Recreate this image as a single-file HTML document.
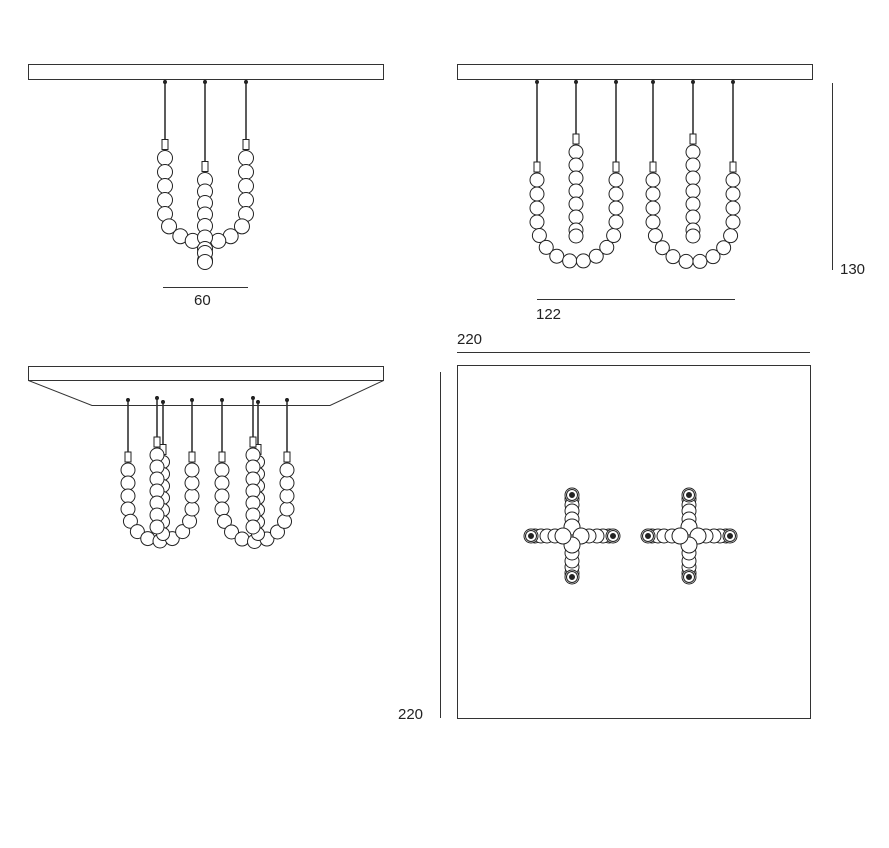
<!DOCTYPE html>
<html><head><meta charset="utf-8"><style>
html,body{margin:0;padding:0;background:#fff;width:889px;height:848px;overflow:hidden}
text{font-family:"Liberation Sans",sans-serif;font-size:15px;fill:#222}
</style></head><body>
<svg id="s" width="889" height="848" xmlns="http://www.w3.org/2000/svg">
<g fill="none" stroke="#333" stroke-width="1">
<rect x="28.5" y="64.5" width="355" height="15"/>
<rect x="457.5" y="64.5" width="355" height="15"/>
<rect x="28.5" y="366.5" width="355" height="14"/>
<path d="M28.5 380.5 L92 405.5 L330 405.5 L383.5 380.5"/>
<rect x="457.5" y="365.5" width="353" height="353"/>
<line x1="163" y1="287.5" x2="248" y2="287.5"/>
<line x1="537" y1="299.5" x2="735" y2="299.5"/>
<line x1="832.5" y1="83" x2="832.5" y2="270"/>
<line x1="457" y1="352.5" x2="810" y2="352.5"/>
<line x1="440.5" y1="372" x2="440.5" y2="718"/>
</g>
<text x="194" y="305">60</text>
<text x="536" y="319">122</text>
<text x="840" y="274">130</text>
<text x="457" y="344">220</text>
<text x="398" y="719">220</text>
<g id="g" fill="#fff" stroke="#222" stroke-width="1"></g>
</svg>
<script>
var g=document.getElementById('g'),NS='http://www.w3.org/2000/svg';
function el(t,a){var e=document.createElementNS(NS,t);for(var k in a)e.setAttribute(k,a[k]);g.appendChild(e);return e;}
function bead(x,y,r){el('circle',{cx:x,cy:y,r:r||7});}
function cord(x,y0,y1){el('line',{x1:x,y1:y0,x2:x,y2:y1,'stroke-width':1.6,stroke:'#333'});el('circle',{cx:x,cy:y0+2,r:1.5,fill:'#222'});el('rect',{x:x-3,y:y1,width:6,height:10,fill:'#fff'});}
function uShape(xl,xr,top,y0,n,step,r){
 var mid=(xl+xr)/2,R=(xr-xl)/2,yl=y0+(n-1)*step;
 cord(xl,top,y0-r-11);cord(xr,top,y0-r-11);
 var pts=[];
 for(var i=0;i<n;i++){pts.push([xl,y0+i*step]);}
 var m=Math.max(2,Math.round(Math.PI*R/step));
 for(var j=1;j<m;j++){var a=Math.PI-j*Math.PI/m;pts.push([mid+R*Math.cos(a),yl+R*Math.sin(a)]);}
 for(var i=n-1;i>=0;i--){pts.push([xr,y0+i*step]);}
 pts.forEach(function(p){bead(p[0],p[1],r);});
}
function vStrand(x,top,y0,n,step,r){cord(x,top,y0-r-11);for(var i=0;i<n;i++)bead(x,y0+i*step,r);}
(function(){
 var xl=165,xr=246,mid=205.5,R=40.5,y0=158,n=5,step=14,r=7.5,yl=y0+(n-1)*step;
 cord(xl,80,y0-r-11);cord(xr,80,y0-r-11);
 for(var i=0;i<n;i++){bead(xl,y0+i*step,r);bead(xr,y0+i*step,r);}
 [0.45,0.9,1.25].forEach(function(t){bead(mid-R*Math.cos(t),yl+R*0.7*Math.sin(t),r);bead(mid+R*Math.cos(t),yl+R*0.7*Math.sin(t),r);});
 vStrand(205,80,180,8,11.5,7.5);
 bead(205,253,7.5);bead(205,262,7.5);
})();
uShape(537,616,80,180,4,14,7);
vStrand(576,80,152,7,13,7);bead(576,236,7);
uShape(653,733,80,180,4,14,7);
vStrand(693,80,152,7,13,7);bead(693,236,7);
uShape(128,192,398,470,4,13,7);
vStrand(163,400,462,7,12,6.5);vStrand(157,396,455,7,12,7);
uShape(222,287,398,470,4,13,7);
vStrand(258,400,462,7,12,6.5);vStrand(253,396,455,7,12,7);
function cross(cx,cy){
 var d=[[0,-1],[1,0],[0,1],[-1,0]];
 d.forEach(function(v){[37,31,25,17].forEach(function(k){bead(cx+v[0]*k,cy+v[1]*k,7);});});
 d.forEach(function(v){bead(cx+v[0]*9,cy+v[1]*9,8);});
 d.forEach(function(v){var x=cx+v[0]*41,y=cy+v[1]*41;bead(x,y,7);bead(x,y,5.5);el('circle',{cx:x,cy:y,r:2.5,fill:'#222'});});
}
cross(572,536);cross(689,536);
</script>
</body></html>
